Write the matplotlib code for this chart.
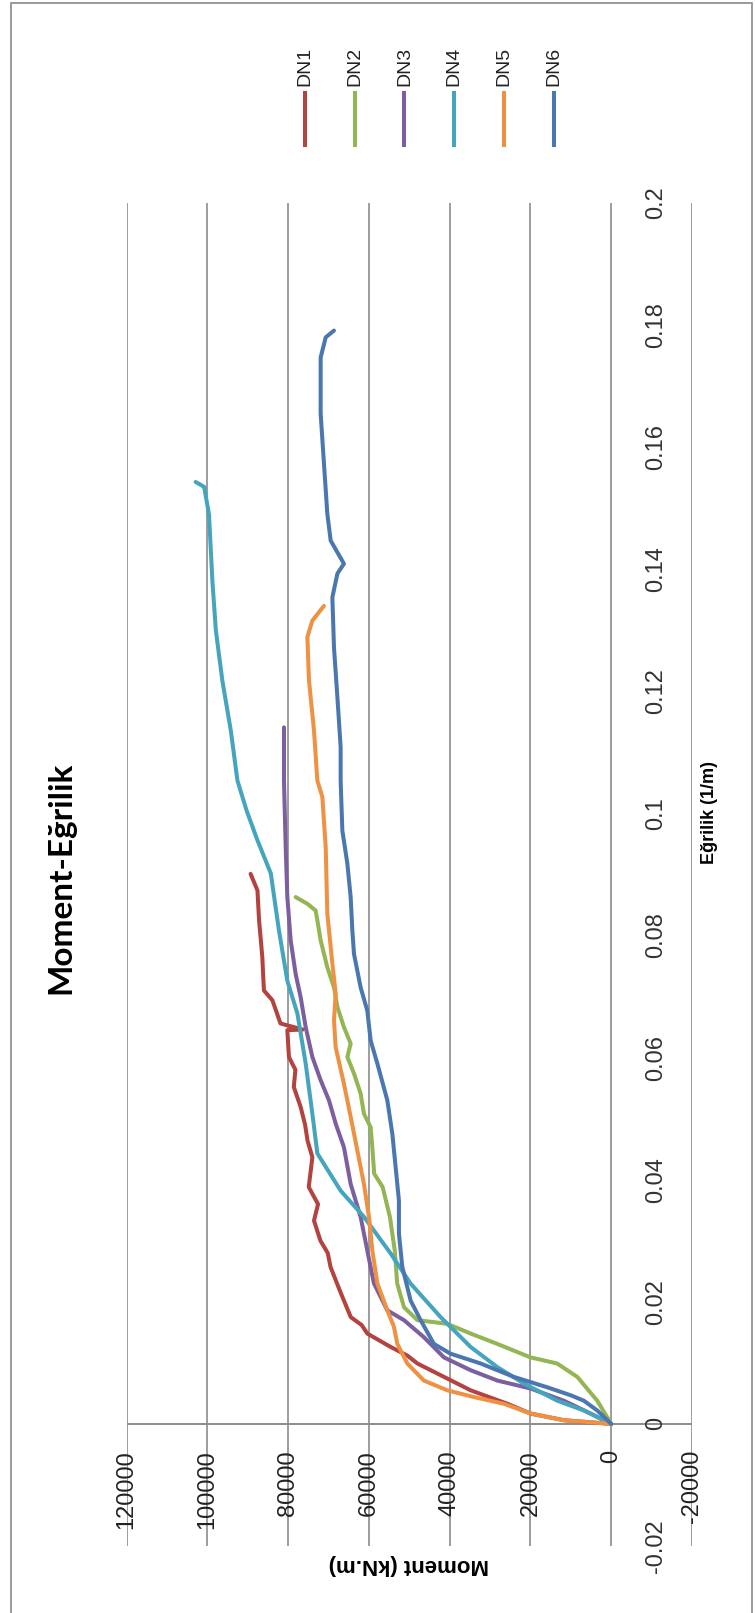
import matplotlib
matplotlib.use("Agg")
import matplotlib.pyplot as plt
from matplotlib.patches import Rectangle
from matplotlib.lines import Line2D

# data: curvature (1/m) and moment (kN.m) for each specimen
names = ["DN1", "DN2", "DN3", "DN4", "DN5", "DN6"]
colors = ["#B3433E", "#93B553", "#7B5F9E", "#45A5BF", "#EE9142", "#4A77B0"]

k_dn1 = [0, 0.0006, 0.0017, 0.0033, 0.0055, 0.0077, 0.0099, 0.0112, 0.0126, 0.0148, 0.0162,
         0.0175, 0.0215, 0.0257, 0.028, 0.030, 0.0333, 0.036, 0.0388, 0.0437, 0.0464, 0.049,
         0.0519, 0.0552, 0.058, 0.0601, 0.0645, 0.0646, 0.0656, 0.0694, 0.071, 0.0765, 0.0825,
         0.0874, 0.0901]
m_dn1 = [0, 11700, 20000, 25700, 34800, 41400, 48000, 50500, 54600, 60400, 61800,
         64500, 67000, 69500, 70200, 72000, 73600, 72600, 74900, 74000, 75200, 75800,
         76900, 78600, 78200, 79800, 80200, 76400, 81900, 83900, 86000, 86400, 87200,
         87600, 89300]

k_dn2 = [0, 0.0038, 0.0077, 0.0099, 0.0109, 0.0131, 0.0148, 0.0164, 0.017, 0.0191, 0.023,
         0.0284, 0.0339, 0.0388, 0.041, 0.0453, 0.0486, 0.0508, 0.0541, 0.0574, 0.0601,
         0.0623, 0.065, 0.0683, 0.0715, 0.0748, 0.0792, 0.0825, 0.0841, 0.0852, 0.0863]
m_dn2 = [0, 3460, 8400, 13400, 20000, 28200, 34800, 40600, 48000, 51300, 53000,
         53600, 54800, 56600, 58700, 59150, 59570, 61230, 62050, 63700, 65340,
         64520, 66180, 67800, 68650, 70300, 71950, 72770, 73190, 75240, 78140]

k_dn3 = [0, 0.0017, 0.0038, 0.0058, 0.0071, 0.0088, 0.0109, 0.0142, 0.017, 0.0186, 0.023,
         0.0284, 0.0339, 0.0393, 0.0453, 0.0492, 0.053, 0.0563, 0.0601, 0.065, 0.0699,
         0.0737, 0.0792, 0.0863, 0.0945, 0.1054, 0.1141]
m_dn3 = [0, 5120, 11730, 19970, 28200, 34820, 41430, 46380, 51330, 55440, 58750,
         60400, 62050, 64520, 66180, 68230, 69890, 71950, 74000, 75660, 76900,
         78140, 79370, 80200, 80610, 81030, 81030]

k_dn4 = [0, 0.0022, 0.0038, 0.0066, 0.0093, 0.0126, 0.0175, 0.023, 0.0279, 0.0339, 0.0382,
         0.0443, 0.0508, 0.059, 0.0672, 0.0726, 0.0808, 0.0902, 0.0956, 0.1005, 0.1054,
         0.1136, 0.1218, 0.130, 0.138, 0.149, 0.1535, 0.1543]
m_dn4 = [0, 6780, 13360, 21600, 28200, 34800, 42250, 49700, 54600, 61200, 67000,
         72760, 74000, 75650, 77700, 80200, 82270, 84300, 87600, 90300, 92560,
         94200, 96300, 97900, 98750, 99600, 100800, 102900]

k_dn5 = [0, 0.0006, 0.0017, 0.0033, 0.0044, 0.0055, 0.0071, 0.0099, 0.0131, 0.0159, 0.0186,
         0.023, 0.0284, 0.0339, 0.0393, 0.0448, 0.0503, 0.0557, 0.0617, 0.0661, 0.0705,
         0.0754, 0.0836, 0.0945, 0.1027, 0.1054, 0.1136, 0.1218, 0.1289, 0.1316, 0.134]
m_dn5 = [0, 11730, 19970, 26580, 34000, 40590, 46380, 50500, 52960, 53800, 55440,
         57900, 59150, 59980, 61230, 62870, 64520, 66180, 68230, 68650, 68230,
         69050, 70300, 70700, 71530, 72770, 73600, 74840, 75240, 74000, 71130]

k_dn6 = [0, 0.0022, 0.0038, 0.0047, 0.006, 0.0077, 0.0099, 0.0115, 0.0131, 0.017, 0.0202,
         0.0257, 0.0312, 0.0366, 0.0421, 0.0475, 0.053, 0.059, 0.0628, 0.0677, 0.0715,
         0.077, 0.0808, 0.0863, 0.0918, 0.0972, 0.1054, 0.1109, 0.119, 0.1272, 0.1354,
         0.1393, 0.1409, 0.1447, 0.1491, 0.1573, 0.1655, 0.1747, 0.178, 0.1791]
m_dn6 = [0, 3460, 6780, 10070, 15840, 24100, 32350, 39770, 43900, 47200, 49670,
         51730, 52570, 52570, 53390, 54200, 55440, 57900, 59570, 60400, 62050,
         63700, 64100, 64520, 65340, 66580, 67000, 67000, 67800, 68650, 69050,
         67800, 66180, 69470, 70300, 71130, 71950, 71950, 70700, 68650]

curv = [k_dn1, k_dn2, k_dn3, k_dn4, k_dn5, k_dn6]
moment = [m_dn1, m_dn2, m_dn3, m_dn4, m_dn5, m_dn6]

moment_ticks = [-20000, 0, 20000, 40000, 60000, 80000, 100000, 120000]
curv_ticks = [-0.02, 0, 0.02, 0.04, 0.06, 0.08, 0.1, 0.12, 0.14, 0.16, 0.18, 0.2]
curv_labels = ["-0.02", "0", "0.02", "0.04", "0.06", "0.08", "0.1", "0.12",
               "0.14", "0.16", "0.18", "0.2"]

W, H = 755, 1613
fig = plt.figure(figsize=(W / 100, H / 100), dpi=100)
fig.patch.set_facecolor("white")

# chart is turned 90 degrees: moment runs right-to-left, curvature upward
ax = fig.add_axes([126.6 / W, 1 - 1546 / H, (692 - 126.6) / W, (1546 - 203) / H])
ax.set_xlim(120000, -20000)
ax.set_ylim(-0.02, 0.2)
for s in ax.spines.values():
    s.set_visible(False)
ax.set_xticks([])
ax.set_yticks([])

grid_col = "#8c8c8c"
for m in moment_ticks:
    ax.axvline(m, color=grid_col, lw=1.2, zorder=1)
ax.axhline(0, color=grid_col, lw=1.4, zorder=1)

for k, m, c in zip(curv, moment, colors):
    ax.plot(m, k, color=c, lw=2.9, solid_joinstyle="round",
            solid_capstyle="round", zorder=3)

lab_font = "Liberation Sans"
for m in moment_ticks:
    ax.annotate(str(m), xy=(m, 0), xytext=(0, -26), textcoords="offset pixels",
                rotation=90, ha="center", va="top", fontsize=17,
                family=lab_font, color="#222222", zorder=4)
for k, lab in zip(curv_ticks, curv_labels):
    ax.annotate(lab, xy=(0, k), xytext=(34, 0), textcoords="offset pixels",
                rotation=90, ha="left", va="center", fontsize=17,
                family=lab_font, color="#333333", zorder=4)

# titles
fig.text(61 / W, 1 - 878 / H, "Moment-Eğrilik", rotation=90, ha="center",
         va="center", fontsize=24, fontweight="bold", family="Lato")
fig.text(409 / W, 1 - 1565 / H, "Moment (kN.m)", rotation=180, ha="center",
         va="center", fontsize=16, fontweight="bold", family=lab_font)
fig.text(710 / W, 1 - 812 / H, "Eğrilik (1/m)", rotation=90, ha="center",
         va="center", fontsize=13, fontweight="bold", family=lab_font)

# legend, turned with the chart
for i, (n, c) in enumerate(zip(names, colors)):
    x = (305 + i * 49.7) / W
    fig.add_artist(Line2D([x, x], [1 - 145 / H, 1 - 93 / H], color=c, lw=2.9,
                          transform=fig.transFigure))
    fig.text(x, 1 - 86 / H, n, rotation=90, ha="center", va="bottom",
             fontsize=14, family=lab_font, color="#222222")

# chart border
fig.add_artist(Rectangle((10.6 / W, -0.01), (751.5 - 10.6) / W, 1.01 - 3 / H,
                         transform=fig.transFigure, fill=False,
                         edgecolor="#8a8a8a", lw=1.2))

fig.savefig("out.png", dpi=100)
